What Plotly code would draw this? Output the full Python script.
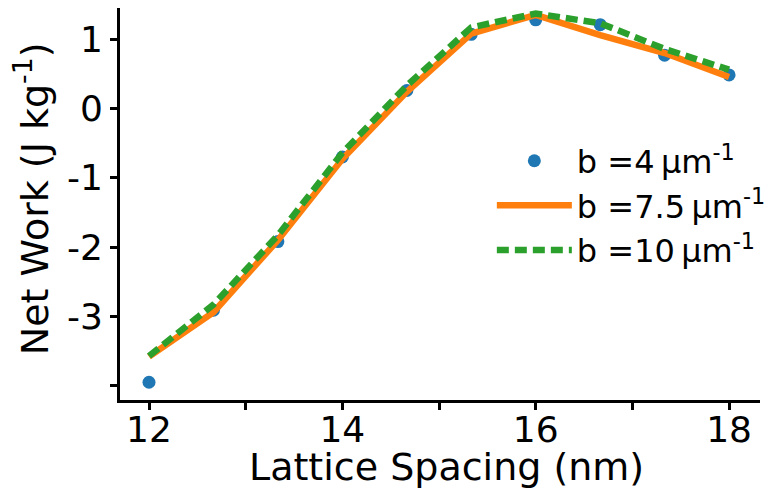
import plotly.graph_objects as go

# Lattice spacing (nm) sampled at ten points between 12 and 18
spacing = [12.0, 12.667, 13.333, 14.0, 14.667, 15.333, 16.0, 16.667, 17.333, 18.0]

# Net work (J kg^-1) for three values of b
work_b4 = [-3.95, -2.91, -1.92, -0.70, 0.26, 1.07, 1.28, 1.21, 0.77, 0.485]
work_b75 = [-3.58, -2.94, -1.90, -0.73, 0.24, 1.08, 1.35, 1.06, 0.80, 0.455]
work_b10 = [-3.57, -2.83, -1.83, -0.64, 0.33, 1.17, 1.37, 1.23, 0.86, 0.56]

x_ticks = [12, 13, 14, 15, 16, 17, 18]
x_ticktext = ["12", "", "14", "", "16", "", "18"]
y_ticks = [-4, -3, -2, -1, 0, 1]
y_ticktext = ["", "-3", "-2", "-1", "0", "1"]

FONT = "DejaVu Sans"
TICK_SIZE = 36
TITLE_SIZE = 38
LEGEND_SIZE = 32

fig = go.Figure()
fig.add_trace(go.Scatter(
    x=spacing, y=work_b4, mode="markers", name="b =4\u2009μm<sup>-1</sup>",
    marker=dict(color="#1f77b4", size=13),
))
fig.add_trace(go.Scatter(
    x=spacing, y=work_b75, mode="lines", name="b =7.5\u2009μm<sup>-1</sup>",
    line=dict(color="#ff7f0e", width=6.5),
))
fig.add_trace(go.Scatter(
    x=spacing, y=work_b10, mode="lines", name="b =10\u2009μm<sup>-1</sup>",
    line=dict(color="#2ca02c", width=6.5, dash="12px,6px"),
))

axis_common = dict(
    showline=True, linecolor="black", linewidth=3,
    ticks="outside", ticklen=7, tickwidth=2.5, tickcolor="black",
    showgrid=False, zeroline=False, automargin=False,
    tickfont=dict(family=FONT, size=TICK_SIZE, color="black"),
)

fig.update_xaxes(range=[11.70, 18.32], tickvals=x_ticks, ticktext=x_ticktext,
                 ticklabelstandoff=-11, **axis_common)
fig.update_yaxes(range=[-4.206, 1.45], tickvals=y_ticks, ticktext=y_ticktext, **axis_common)

# Axis titles
fig.add_annotation(
    text="Lattice Spacing (nm)", xref="paper", yref="paper",
    x=0.51, y=-0.171, xanchor="center", yanchor="middle", showarrow=False,
    font=dict(family=FONT, size=TITLE_SIZE, color="black"),
)
fig.add_annotation(
    text="Net Work (J kg<sup>-1</sup>)", xref="paper", yref="paper",
    x=-0.137, y=0.513, xanchor="center", yanchor="middle", showarrow=False,
    textangle=-90, font=dict(family=FONT, size=TITLE_SIZE, color="black"),
)

fig.update_layout(
    width=773, height=497,
    margin=dict(l=120, r=13, t=8, b=97, autoexpand=False),
    paper_bgcolor="white", plot_bgcolor="white",
    font=dict(family=FONT, color="black"),
    legend=dict(
        x=0.581, y=0.68, xanchor="left", yanchor="top",
        font=dict(family=FONT, size=LEGEND_SIZE, color="black"),
        bgcolor="rgba(0,0,0,0)", itemwidth=75, tracegroupgap=0,
    ),
)

fig.write_html("out.html")
